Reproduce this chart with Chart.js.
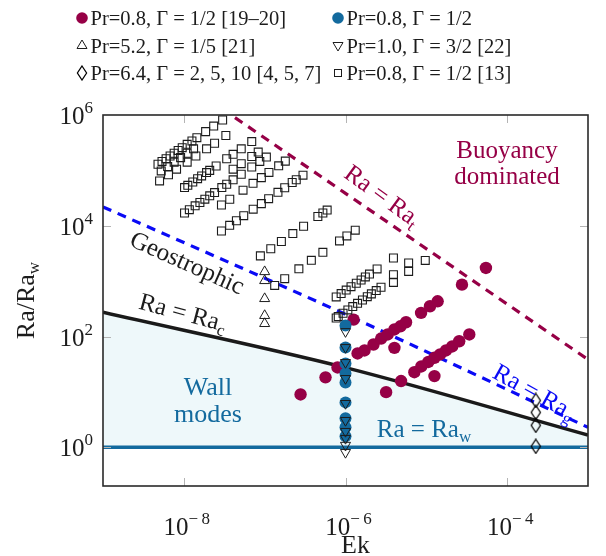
<!DOCTYPE html>
<html>
<head>
<meta charset="utf-8">
<script src="https://cdn.jsdelivr.net/npm/chart.js@4.4.1/dist/chart.umd.min.js"></script>
<style>
  html, body { margin: 0; padding: 0; background: #ffffff; }
</style>
</head>
<body>
<canvas id="regime" width="606" height="556"></canvas>
<script>
/* ---------------- axis ranges and ticks ---------------- */
const ekRange = [1e-9, 1e-3];
const ratioRange = [0.2, 1e6];
const ekTicks = [1e-8, 1e-6, 1e-4];
const ratioTicks = [1, 1e2, 1e4, 1e6];

/* ---------------- regime boundaries (Ra/Ra_w vs Ek) ---------------- */
const curveEk = [1e-9, 1e-6, 1e-3];
const onsetWall = [1, 1, 1];
const onsetBulk = [275, 27.5, 1.66];
const transGeo = [21900, 251, 2.29];
const transBuoy = [3.85e7, 3.85e4, 38.5];

/* ---------------- data points [Ek, Ra/Ra_w] ---------------- */
// Pr=0.8, Gamma=1/2 [19-20]
const pr08Refs1920 = [
  [2.78e-7, 9.0], [5.66e-7, 18.3], [7.96e-7, 27.6], [1.26e-6, 202], [1.41e-6, 49.4],
  [1.72e-6, 56.0], [2.22e-6, 71.8], [2.76e-6, 92.0], [3.33e-6, 109], [4.03e-6, 134],
  [4.78e-6, 153], [5.61e-6, 181], [4.03e-6, 62.5], [3.18e-6, 9.9], [4.87e-6, 15.7],
  [7.11e-6, 22.7], [8.67e-6, 28.8], [1.06e-5, 34.7], [1.26e-5, 41.3], [1.48e-5, 47.4],
  [1.75e-5, 56.0], [2.09e-5, 66.1], [2.55e-5, 82.2], [3.40e-5, 109], [1.26e-5, 19.3],
  [8.61e-6, 267], [1.11e-5, 352], [1.38e-5, 433], [2.76e-5, 865], [5.46e-5, 1730]
];
// Pr=0.8, Gamma=1/2 (present)
const pr08Present = [
  [1e-6, 158], [1e-6, 63.4], [1e-6, 32.6], [1e-6, 21.5], [1e-6, 14.8],
  [1e-6, 6.47], [1e-6, 3.33], [1e-6, 2.29], [1e-6, 1.58]
];
// Pr=5.2, Gamma=1/5 [21]
const pr52Ref21 = [
  [1e-7, 1480], [1e-7, 1020], [1e-7, 483], [1e-7, 239], [1e-7, 171]
];
// Pr=1.0, Gamma=3/2 [22]
const pr10Ref22 = [
  [1e-6, 123], [1e-6, 63.4], [1e-6, 34.0], [1e-6, 17.5], [1e-6, 6.2],
  [1e-6, 3.06], [1e-6, 1.94], [1e-6, 1.45], [1e-6, 1.09], [1e-6, 0.81]
];
// Pr=6.4, Gamma=2,5,10 [4,5,7]
const pr64Refs457 = [
  [2.26e-4, 7.0], [2.26e-4, 4.27], [2.26e-4, 2.49], [2.26e-4, 1.04]
];
// Pr=0.8, Gamma=1/2 [13]
const pr08Ref13 = [
  [4.79e-9, 1.29e5], [5.37e-9, 1.45e5], [6.03e-9, 1.62e5], [6.76e-9, 1.82e5], [7.59e-9, 2.04e5],
  [8.51e-9, 2.29e5], [9.55e-9, 2.57e5], [1.10e-8, 2.95e5], [1.26e-8, 3.39e5], [1.45e-8, 3.89e5],
  [1.86e-8, 5.01e5], [2.34e-8, 6.31e5], [3.02e-8, 8.13e5],
  [5.25e-9, 9.77e4], [6.31e-9, 1.17e5], [7.59e-9, 1.41e5], [9.12e-9, 1.70e5], [1.10e-8, 2.04e5],
  [1.32e-8, 2.45e5],
  [5.01e-9, 6.46e4], [6.46e-9, 8.32e4], [8.13e-9, 1.05e5], [1.10e-8, 1.41e5], [1.41e-8, 1.82e5],
  [1.91e-8, 2.45e5], [2.40e-8, 3.09e5], [3.31e-8, 4.27e5],
  [1.02e-8, 4.90e4], [1.12e-8, 5.37e4], [1.29e-8, 6.17e4], [1.48e-8, 7.08e4], [1.66e-8, 7.94e4],
  [1.91e-8, 9.12e4], [2.09e-8, 1.00e5], [2.51e-8, 1.20e5], [3.39e-8, 1.62e5], [4.07e-8, 1.95e5],
  [5.13e-8, 2.45e5], [6.92e-8, 3.31e5],
  [4.07e-8, 1.05e5], [5.13e-8, 1.32e5], [6.92e-8, 1.78e5], [8.32e-8, 2.14e5],
  [1.02e-8, 1.70e4], [1.17e-8, 1.95e4], [1.38e-8, 2.29e4], [1.58e-8, 2.63e4], [1.82e-8, 3.02e4],
  [2.09e-8, 3.47e4], [2.40e-8, 3.98e4], [2.95e-8, 4.90e4], [3.39e-8, 5.62e4], [4.07e-8, 6.76e4],
  [5.13e-8, 8.51e4], [6.92e-8, 1.15e5], [8.71e-8, 1.45e5], [1.05e-7, 1.74e5],
  [2.92e-8, 2.37e4], [3.70e-8, 3.01e4], [5.40e-8, 4.39e4], [7.18e-8, 5.83e4], [9.10e-8, 7.40e4],
  [1.13e-7, 9.18e4], [1.49e-7, 1.21e5], [1.80e-7, 1.47e5],
  [2.92e-8, 8040], [3.69e-8, 1.02e4], [4.47e-8, 1.23e4], [5.51e-8, 1.52e4], [7.21e-8, 1.99e4],
  [9.10e-8, 2.51e4], [1.12e-7, 3.08e4], [1.46e-7, 4.01e4], [1.77e-7, 4.86e4], [2.19e-7, 6.04e4],
  [2.46e-7, 6.78e4], [2.98e-7, 8.20e4],
  [8.85e-8, 2860], [1.19e-7, 3840], [1.61e-7, 5200], [2.23e-7, 7230], [3.03e-7, 9790],
  [4.55e-7, 1.47e4], [5.25e-7, 1.70e4], [5.93e-7, 1.92e4],
  [1.33e-7, 838], [1.77e-7, 1110], [2.65e-7, 1670], [3.78e-7, 2380], [5.25e-7, 3310],
  [8.43e-7, 5320], [1.04e-6, 6550], [1.32e-6, 8320],
  [7.67e-7, 519], [8.83e-7, 597], [1.02e-6, 689], [1.17e-6, 794], [1.36e-6, 916],
  [1.56e-6, 1050], [1.76e-6, 1190], [1.98e-6, 1340], [2.46e-6, 1660],
  [7.67e-7, 216], [8.13e-7, 229], [9.33e-7, 263], [1.07e-6, 302], [1.23e-6, 347],
  [1.41e-6, 398], [1.62e-6, 457], [1.86e-6, 525], [2.09e-6, 589], [2.40e-6, 676], [2.75e-6, 776],
  [3.92e-6, 2620], [3.92e-6, 1310], [3.92e-6, 950], [6.04e-6, 2130], [6.04e-6, 1500], [9.7e-6, 2370]
];

const legendRows = [
  ['dot-maroon', 'Pr=0.8, Γ = 1/2 [19–20]'],
  ['dot-teal', 'Pr=0.8, Γ = 1/2'],
  ['tri-up', 'Pr=5.2, Γ = 1/5 [21]'],
  ['tri-down', 'Pr=1.0, Γ = 3/2 [22]'],
  ['diamond', 'Pr=6.4, Γ = 2, 5, 10 [4, 5, 7]'],
  ['square', 'Pr=0.8, Γ = 1/2 [13]']
];

/* ---------------- styling ---------------- */
const SERIF = '"Liberation Serif", "Times New Roman", serif';
const MAROON = '#960046';
const TEAL = '#136a9e';
const BLUE = '#0a0af5';
const WALL_FILL = '#eef8fa';
const INK = '#1c1c1c';

const toXY = arr => arr.map(p => ({ x: p[0], y: p[1] }));
const curve = vals => curveEk.map((e, i) => ({ x: e, y: vals[i] }));

// narrow LaTeX-like diamond marker
function diamondMark() {
  const c = document.createElement('canvas');
  c.width = 12; c.height = 16;
  const g = c.getContext('2d');
  g.strokeStyle = '#000000'; g.lineWidth = 1.25;
  g.beginPath();
  g.moveTo(6, 1); g.lineTo(10.6, 8); g.lineTo(6, 15); g.lineTo(1.4, 8);
  g.closePath(); g.stroke();
  return c;
}
const diamondImg = diamondMark();

function richText(ctx, parts, x, y, align, angle) {
  ctx.save();
  ctx.translate(x, y);
  if (angle) ctx.rotate(angle * Math.PI / 180);
  ctx.textAlign = 'left';
  ctx.textBaseline = 'alphabetic';
  let total = 0;
  parts.forEach(p => { ctx.font = p[1] + 'px ' + SERIF; total += ctx.measureText(p[0]).width; });
  let cx = align === 'left' ? 0 : align === 'right' ? -total : -total / 2;
  parts.forEach(p => {
    ctx.font = p[1] + 'px ' + SERIF;
    ctx.fillText(p[0], cx, p[2]);
    cx += ctx.measureText(p[0]).width;
  });
  ctx.restore();
}

function drawMarker(ctx, kind, x, y) {
  ctx.save();
  ctx.lineWidth = 1;
  ctx.strokeStyle = INK;
  ctx.beginPath();
  if (kind === 'dot-maroon' || kind === 'dot-teal') {
    ctx.fillStyle = kind === 'dot-maroon' ? MAROON : TEAL;
    ctx.arc(x, y, 5.8, 0, Math.PI * 2);
    ctx.fill();
  } else if (kind === 'tri-up') {
    ctx.moveTo(x, y - 5.5); ctx.lineTo(x + 5, y + 3); ctx.lineTo(x - 5, y + 3); ctx.closePath();
    ctx.stroke();
  } else if (kind === 'tri-down') {
    ctx.moveTo(x, y + 5.5); ctx.lineTo(x + 5, y - 3); ctx.lineTo(x - 5, y - 3); ctx.closePath();
    ctx.stroke();
  } else if (kind === 'diamond') {
    ctx.drawImage(diamondImg, Math.round(x - 6), Math.round(y - 8));
  } else {
    ctx.strokeRect(x - 3.5, y - 3.5, 7, 7);
  }
  ctx.restore();
}

const decorations = {
  id: 'decorations',
  afterDraw(chart) {
    const ctx = chart.ctx;
    const a = chart.chartArea;
    const xs = chart.scales.x, ys = chart.scales.y;

    // inner tick marks
    ctx.save();
    ctx.strokeStyle = '#b4b4b4';
    ctx.lineWidth = 1;
    ctx.beginPath();
    ekTicks.forEach(t => {
      const px = Math.round(xs.getPixelForValue(t)) + 0.5;
      ctx.moveTo(px, a.bottom); ctx.lineTo(px, a.bottom - 8);
      ctx.moveTo(px, a.top); ctx.lineTo(px, a.top + 8);
    });
    ratioTicks.forEach(t => {
      const py = Math.round(ys.getPixelForValue(t)) + 0.5;
      if (py <= a.top + 2) return;
      ctx.moveTo(a.left, py); ctx.lineTo(a.left + 8, py);
      ctx.moveTo(a.right, py); ctx.lineTo(a.right - 8, py);
    });
    ctx.stroke();

    // frame
    ctx.strokeStyle = '#2a2a2a';
    ctx.lineWidth = 1.6;
    ctx.strokeRect(a.left, a.top, a.right - a.left, a.bottom - a.top);
    ctx.restore();

    // tick labels
    ctx.save();
    ctx.fillStyle = INK;
    ekTicks.forEach(t => {
      const px = xs.getPixelForValue(t);
      const ex = Math.round(Math.log10(t));
      richText(ctx, [['10', 25, 0], ['−\u2009' + String(-ex), 17, -11]], px + 3, 535, 'center');
    });
    ratioTicks.forEach(t => {
      const py = ys.getPixelForValue(t);
      richText(ctx, [['10', 25, 0], [String(Math.round(Math.log10(t))), 17, -11]], 93, py + 9, 'right');
    });

    // axis titles
    richText(ctx, [['Ek', 26, 0]], (a.left + a.right) / 2 + 10, 553, 'center');
    richText(ctx, [['Ra/Ra', 26, 0], ['w', 17, 5]], 34, (a.top + a.bottom) / 2, 'center', -90);
    ctx.restore();

    // region annotations
    ctx.save();
    ctx.fillStyle = MAROON;
    richText(ctx, [['Buoyancy', 25, 0]], 507, 158, 'center');
    richText(ctx, [['dominated', 25, 0]], 507, 184, 'center');
    richText(ctx, [['Ra = Ra', 25, 0], ['t', 17, 5]], 378, 195 + 7, 'center', 36);
    ctx.fillStyle = INK;
    richText(ctx, [['Geostrophic', 25, 0]], 184, 263 + 7, 'center', 24);
    richText(ctx, [['Ra = Ra', 25, 0], ['c', 17, 5]], 181, 313 + 7, 'center', 15);
    ctx.fillStyle = BLUE;
    richText(ctx, [['Ra = Ra', 25, 0], ['g', 17, 5]], 531, 392 + 7, 'center', 29);
    ctx.fillStyle = TEAL;
    richText(ctx, [['Wall', 26, 0]], 208, 395, 'center');
    richText(ctx, [['modes', 26, 0]], 208, 422, 'center');
    richText(ctx, [['Ra = Ra', 25, 0], ['w', 17, 5]], 424, 437, 'center');
    ctx.restore();

    // legend, two columns by three rows
    ctx.save();
    ctx.fillStyle = INK;
    legendRows.forEach((row, i) => {
      const col = i % 2, line = Math.floor(i / 2);
      const mx = col === 0 ? 82 : 338;
      const my = 18 + line * 27.5;
      drawMarker(ctx, row[0], mx, my);
      richText(ctx, [[row[1], 20.5, 0]], mx + 8.5, my + 7, 'left');
    });
    ctx.restore();
  }
};

const ctx = document.getElementById('regime').getContext('2d');

const regimeChart = new Chart(ctx, {
  type: 'scatter',
  data: {
    datasets: [
      {
        label: 'Pr=1.0 [22]',
        data: toXY(pr10Ref22),
        pointStyle: 'triangle', rotation: 180, pointRadius: 5.8,
        backgroundColor: 'rgba(0,0,0,0)', borderColor: INK, borderWidth: 1
      },
      {
        label: 'Pr=0.8 present',
        data: toXY(pr08Present),
        pointStyle: 'circle', pointRadius: 6,
        backgroundColor: TEAL, borderColor: TEAL, borderWidth: 0
      },
      {
        label: 'Pr=5.2 [21]',
        data: toXY(pr52Ref21),
        pointStyle: 'triangle', pointRadius: 5.8,
        backgroundColor: 'rgba(0,0,0,0)', borderColor: INK, borderWidth: 1
      },
      {
        label: 'Pr=6.4 [4,5,7]',
        data: toXY(pr64Refs457),
        pointStyle: diamondImg, pointRadius: 6
      },
      {
        label: 'Pr=0.8 [13]',
        data: toXY(pr08Ref13),
        pointStyle: 'rect', pointRadius: 5.6,
        backgroundColor: 'rgba(0,0,0,0)', borderColor: INK, borderWidth: 1.1
      },
      {
        label: 'Pr=0.8 [19-20]',
        data: toXY(pr08Refs1920),
        pointStyle: 'circle', pointRadius: 6.2,
        backgroundColor: MAROON, borderColor: MAROON, borderWidth: 0
      },
      {
        label: 'Ra = Ra_t',
        data: curve(transBuoy),
        showLine: true, pointRadius: 0,
        borderColor: MAROON, borderWidth: 3.2, borderDash: [9, 7]
      },
      {
        label: 'Ra = Ra_g',
        data: curve(transGeo),
        showLine: true, pointRadius: 0, cubicInterpolationMode: 'monotone',
        borderColor: BLUE, borderWidth: 3.2, borderDash: [9, 7]
      },
      {
        label: 'Ra = Ra_c',
        data: curve(onsetBulk),
        showLine: true, pointRadius: 0, cubicInterpolationMode: 'monotone',
        borderColor: '#1a1a1a', borderWidth: 3.5,
        fill: '+1', backgroundColor: WALL_FILL
      },
      {
        label: 'Ra = Ra_w',
        data: curve(onsetWall),
        showLine: true, pointRadius: 0,
        borderColor: TEAL, borderWidth: 3.5
      }
    ]
  },
  options: {
    responsive: false,
    animation: false,
    layout: { padding: { left: 103, right: 18, top: 115, bottom: 70 } },
    scales: {
      x: { type: 'logarithmic', min: ekRange[0], max: ekRange[1], display: false },
      y: { type: 'logarithmic', min: ratioRange[0], max: ratioRange[1], display: false }
    },
    plugins: {
      legend: { display: false },
      tooltip: { enabled: false },
      filler: { drawTime: 'beforeDatasetsDraw' }
    }
  },
  plugins: [decorations]
});
</script>
</body>
</html>
